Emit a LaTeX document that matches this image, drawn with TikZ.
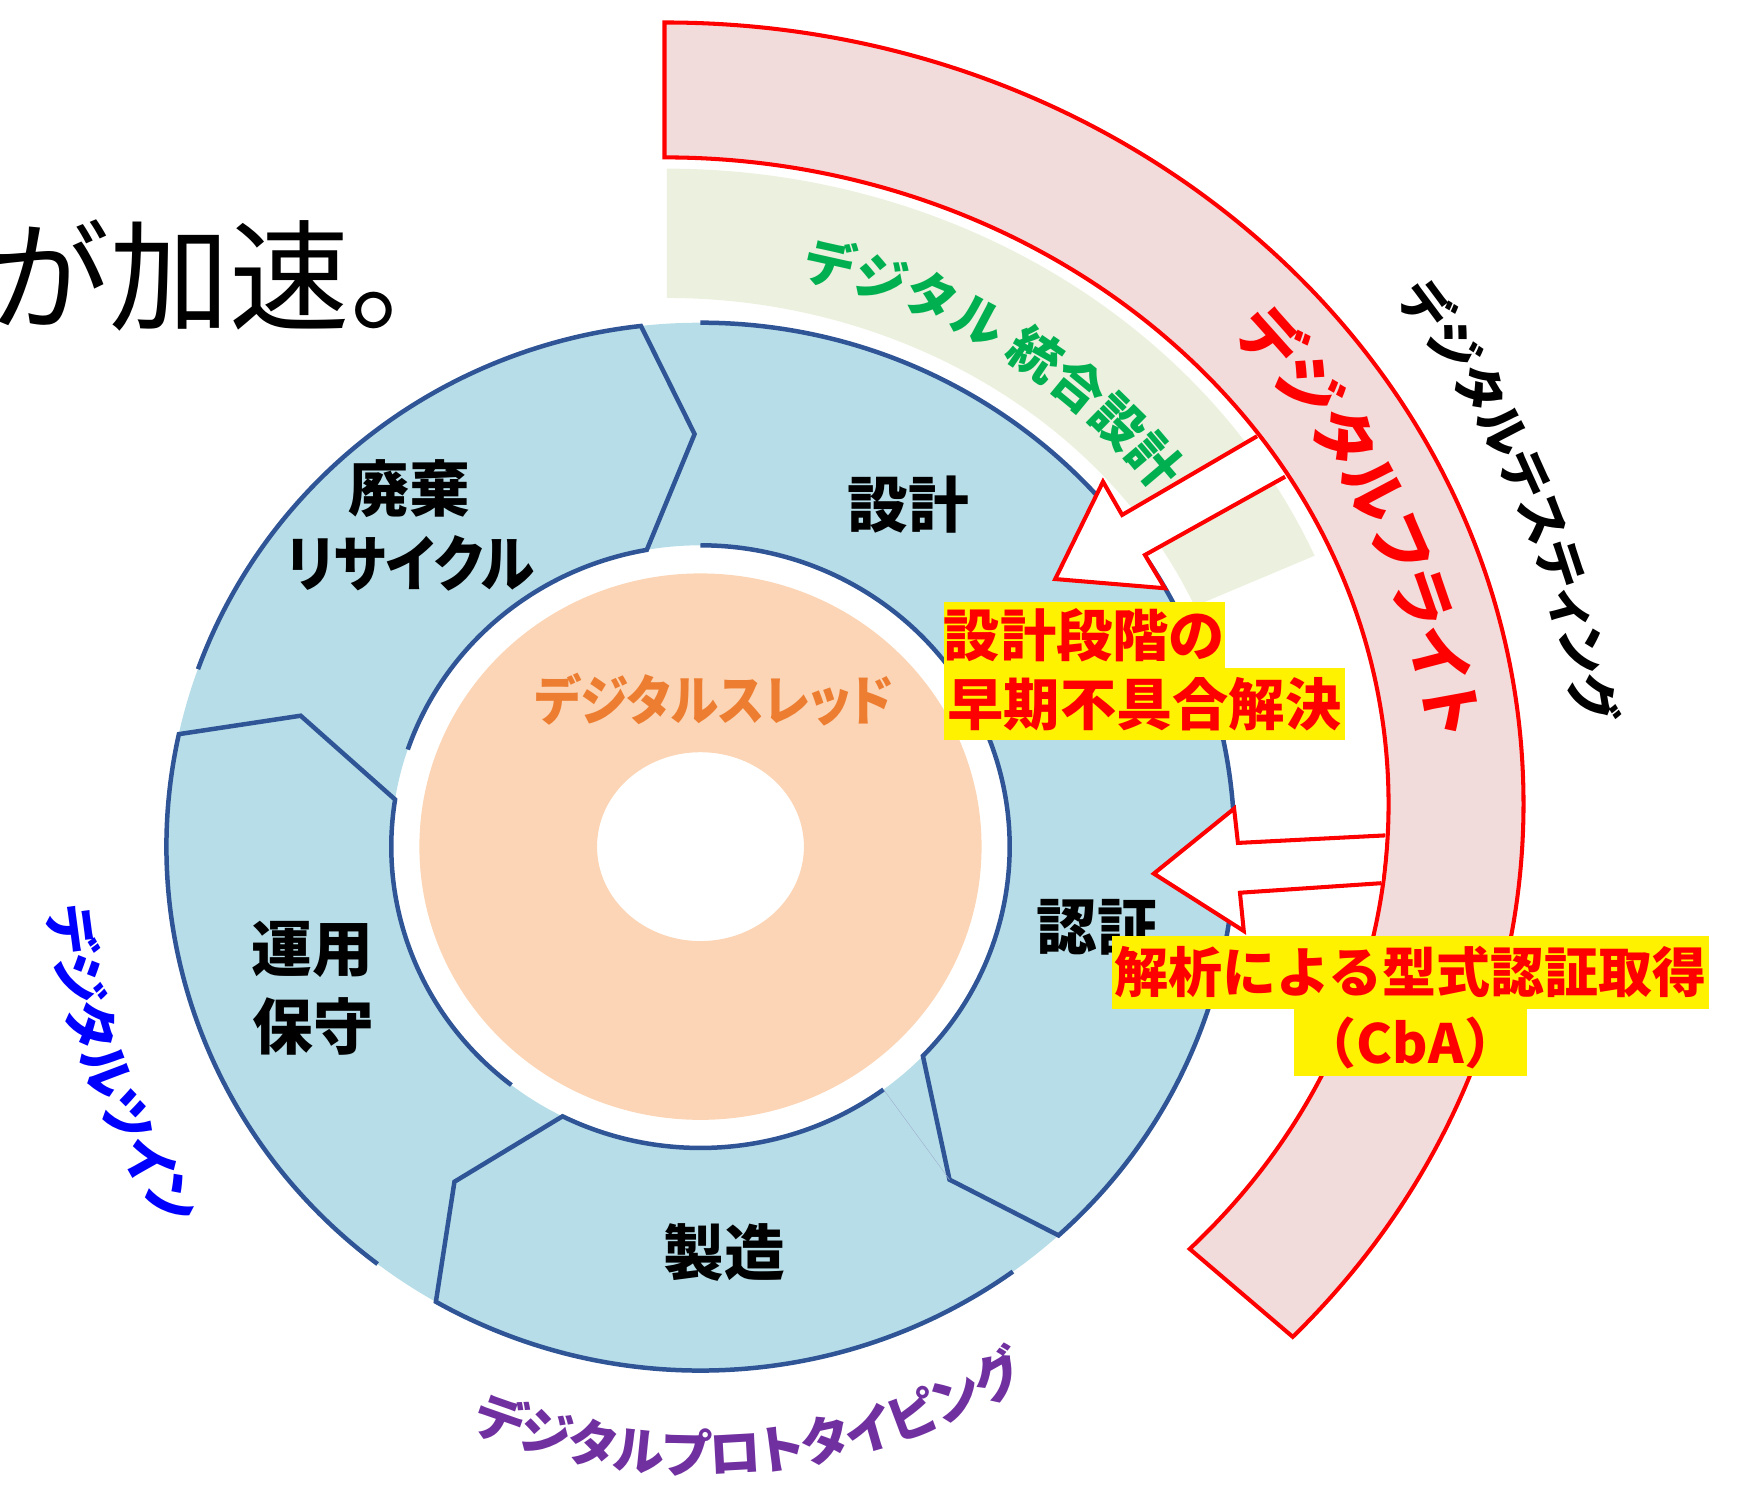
\documentclass[tikz,border=0pt]{standalone}
\usepackage{fontspec}
\newfontfamily\jp{Noto Sans CJK JP}
\newfontfamily\jpp[RawFeature=+palt]{Noto Sans CJK JP}
\newfontfamily\jpn[RawFeature=+palt,FakeStretch=0.9]{Noto Sans CJK JP}
\usetikzlibrary{decorations.text}
\definecolor{ringfill}{HTML}{B7DEE8}
\definecolor{ringline}{HTML}{2F5597}
\definecolor{peach}{HTML}{FBD5B5}
\definecolor{threadtxt}{HTML}{ED7D31}
\definecolor{bandpink}{HTML}{F2DCDB}
\definecolor{bandgreen}{HTML}{EBF1DE}
\definecolor{txtgreen}{HTML}{00B050}
\definecolor{txtpurple}{HTML}{7030A0}
\definecolor{txtblue}{HTML}{0000FF}
\tikzset{
  seg/.style={draw=ringline, line width=2pt, line join=miter},
  lbl/.style={font=\jp\bfseries\fontsize{27pt}{27pt}\selectfont, inner sep=0pt, text=black},
  ybox/.style={fill=yellow, text=red, inner sep=0pt, font=\jp\bfseries\fontsize{25pt}{25pt}\selectfont},
  redarrow/.style={draw=red, line width=1.8pt, fill=white, line join=miter},
  redband/.style={draw=red, line width=1.8pt, fill=bandpink, line join=miter},
}
\begin{document}
\begin{tikzpicture}[x=0.5pt,y=0.5pt]
\useasboundingbox (0,0) rectangle (1568,1329);
\coordinate (C) at (623,576);
\coordinate (P) at (591,614);
\coordinate (G) at (593,614);

% green band
\fill[bandgreen] ([shift={(90:626 and 565)}]G) arc[start angle=90,end angle=23,x radius=626,y radius=565]
  -- ([shift={(23:510 and 450)}]G) arc[start angle=23,end angle=90,x radius=510,y radius=450] -- cycle;

% pink band
\draw[redband] ([shift={(90:764 and 695)}]P) arc[start angle=90,end angle=-43,x radius=764,y radius=695]
  -- ([shift={(-43.5:644 and 575)}]P) arc[start angle=-43.5,end angle=90,x radius=644,y radius=575] -- cycle;

% blue ring and orange disc
\fill[ringfill, even odd rule] (C) ellipse[x radius=475,y radius=466] (C) ellipse[x radius=275,y radius=268];
\fill[peach, even odd rule] (C) ellipse[x radius=250,y radius=243] (C) ellipse[x radius=92,y radius=84];

% segment outlines
\draw[seg] ([shift={(161.2:275 and 268)}]C) arc[start angle=161.2,end angle=100,x radius=275,y radius=268]
  -- ([shift={(90.8:375 and 367)}]C) -- ([shift={(96.4:475 and 466)}]C)
  arc[start angle=96.4,end angle=160.2,x radius=475,y radius=466];
\draw[seg] ([shift={(90:475 and 466)}]C) arc[start angle=90,end angle=14,x radius=475,y radius=466];
\draw[seg] ([shift={(90:275 and 268)}]C) arc[start angle=90,end angle=30,x radius=275,y radius=268];
\draw[seg] ([shift={(22:275 and 268)}]C) arc[start angle=22,end angle=-44,x radius=275,y radius=268]
  -- ([shift={(-53.8:375 and 367)}]C) -- ([shift={(-47.9:475 and 466)}]C)
  arc[start angle=-47.9,end angle=12.7,x radius=475,y radius=466];
\draw[seg] ([shift={(306.3:275 and 268)}]C) arc[start angle=306.3,end angle=243.5,x radius=275,y radius=268]
  -- ([shift={(234.3:375 and 367)}]C) -- ([shift={(240.3:475 and 466)}]C)
  arc[start angle=240.3,end angle=305.8,x radius=475,y radius=466];
\draw[ringline!45, line width=0.2pt] ([shift={(306.3:275 and 268)}]C) -- ([shift={(-53.8:375 and 367)}]C);
\draw[seg] ([shift={(232.3:275 and 268)}]C) arc[start angle=232.3,end angle=171,x radius=275,y radius=268]
  -- ([shift={(161.5:375 and 367)}]C) -- ([shift={(167.6:475 and 466)}]C)
  arc[start angle=167.6,end angle=232.8,x radius=475,y radius=466];

% ring labels
\node[lbl] (haiki) at (364,894) {廃棄};
\node[lbl, font=\jpn\bfseries\fontsize{27pt}{27pt}\selectfont] (recycle) at (365,828) {リサイクル};
\node[lbl] (sekkei) at (808,880.5) {設計};
\node[lbl] (ninsho) at (976,504.3) {認証};
\node[lbl] (seizo) at (644,215) {製造};
\node[lbl] (unyo) at (278,485) {運用};
\node[lbl] (hoshu) at (279,416) {保守};
\node[text=threadtxt, font=\jpn\bfseries\fontsize{24pt}{24pt}\selectfont, inner sep=0pt] (thread) at (635,707) {デジタルスレッド};

% arrows
\coordinate (a1) at (1118,941);
\coordinate (a2) at (998,871);
\coordinate (a3) at (981,900.6);
\coordinate (a4) at (938.5,814);
\coordinate (a5) at (1036,805.8);
\coordinate (a6) at (1018.3,835.4);
\coordinate (a7) at (1143,905);
\draw[redarrow] (a1) -- (a2) -- (a3) -- (a4) -- (a5) -- (a6) -- (a7);
\coordinate (b1) at (1232.1,586);
\coordinate (b2) at (1101,579.3);
\coordinate (b3) at (1097.6,609.8);
\coordinate (b4) at (1026.2,552);
\coordinate (b5) at (1106.2,501);
\coordinate (b6) at (1102.8,535);
\coordinate (b7) at (1228.6,543.5);
\draw[redarrow] (b1) -- (b2) -- (b3) -- (b4) -- (b5) -- (b6) -- (b7);

% curved texts
\path[decorate, decoration={text along path, text align=center, text color=txtgreen,
  text={|\jp\bfseries\fontsize{23pt}{23pt}\selectfont|デジタル 統合設計}}]
  ([shift={(98.9:513)}]C) arc[start angle=98.9,end angle=18.9,radius=513];
\path[decorate, decoration={text along path, text align=center, text color=red,
  text={|\jpp\bfseries\fontsize{28pt}{28pt}\selectfont|デジタルフライト}}]
  ([shift={(66.2:658)}]C) arc[start angle=66.2,end angle=-13.8,radius=658];
\path[decorate, decoration={text along path, text align=center, text color=black,
  text={|\jpp\bfseries\fontsize{22.5pt}{22.5pt}\selectfont|デジタルテスティング}}]
  ([shift={(63.1:788)}]C) arc[start angle=63.1,end angle=-16.9,radius=788];
\path[decorate, decoration={text along path, text align=center, text color=txtblue,
  text={|\jpp\bfseries\fontsize{23.5pt}{23.5pt}\selectfont|デジタルツイン}}]
  ([shift={(160.6:582)}]C) arc[start angle=160.6,end angle=240.6,radius=582];
\path[decorate, decoration={text along path, text align=center, text color=txtpurple,
  text={|\jpp\bfseries\fontsize{23pt}{23pt}\selectfont|デジタルプロトタイピング}}]
  ([shift={(215:557)}]C) arc[start angle=215,end angle=335,radius=557];

% yellow callouts
\node[ybox, minimum width=124.5pt, minimum height=29.3pt] (fb1) at (964.5,764.3) {設計段階の};
\node[ybox, minimum width=177.9pt, minimum height=32pt] (fb2) at (1017.9,703) {早期不具合解決};
\node[ybox, font=\jp\bfseries\fontsize{24pt}{24pt}\selectfont, minimum width=265.5pt, minimum height=32.25pt] (cb1) at (1254.2,464.25) {解析による型式認証取得};
\node[ybox, font=\jp\bfseries\fontsize{24pt}{24pt}\selectfont, minimum width=104pt, minimum height=30.2pt] (cb2) at (1254.5,401.8) {（CbA）};

% title fragment
\node[anchor=base west, inner sep=0pt, font=\jp\fontsize{53.5pt}{53.5pt}\selectfont] (title) at (-10,1043.4) {が加速。};
\end{tikzpicture}
\end{document}
